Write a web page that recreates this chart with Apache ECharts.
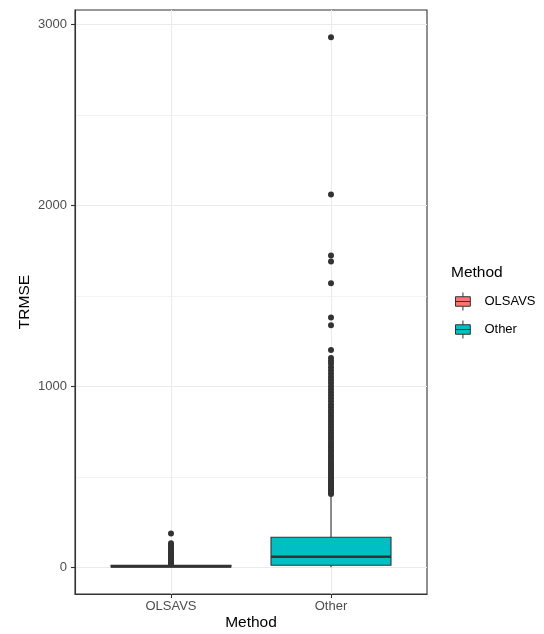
<!DOCTYPE html>
<html>
<head>
<meta charset="utf-8">
<script src="https://cdn.jsdelivr.net/npm/echarts@6/dist/echarts.min.js"></script>
<style>
html,body{margin:0;padding:0;background:#fff;}
#chart{width:544px;height:634px;}
</style>
</head>
<body>
<div id="chart"></div>
<script>
// ---- data ----
const categories = ['OLSAVS', 'Other'];
const yTickValues = [0, 1000, 2000, 3000];
const yMinorValues = [500, 1500, 2500];
// box stats: [min, Q1, median, Q3, max]
const olsavsBox = [0, 1, 4, 10, 18];
const otherBox = [0, 11, 58, 166, 395];
const olsavsOutliers = [20, 24, 28, 33, 38, 44, 50, 57, 64, 72, 80, 88, 96, 105, 114, 123, 132, 186];
const otherOutliers = [405, 410, 418, 425, 433, 440, 448, 456, 465, 473, 482, 490, 500, 510, 520, 530,
  541, 552, 563, 575, 587, 600, 612, 625, 638, 650, 663, 676, 690, 704, 718, 732, 746, 760, 775, 790,
  805, 820, 836, 852, 868, 884, 900, 917, 934, 950, 967, 984, 1001, 1018, 1035, 1052, 1070, 1088,
  1106, 1124, 1140, 1157, 1201, 1337, 1380, 1570, 1690, 1723, 2060, 2930];
const colors = ['#F8766D', '#00BFC4'];

const chart = echarts.init(document.getElementById('chart'), null, {renderer: 'canvas'});
const INK = '#333333';
const HALF = 0.375;
const FONT = 'Liberation Sans, Arial, sans-serif';

function renderBox(params, api) {
  const x = api.value(0);
  const mn = api.value(1), q1 = api.value(2), md = api.value(3), q3 = api.value(4), mx = api.value(5);
  const cTop = api.coord([x, mx]);
  const cQ3 = api.coord([x, q3]);
  const cQ1 = api.coord([x, q1]);
  const cMin = api.coord([x, mn]);
  const tl = api.coord([x - HALF, q3]);
  const br = api.coord([x + HALF, q1]);
  const mL = api.coord([x - HALF, md]);
  const mR = api.coord([x + HALF, md]);
  return {
    type: 'group',
    children: [
      {type: 'line', shape: {x1: cTop[0], y1: cTop[1], x2: cQ3[0], y2: cQ3[1]}, style: {stroke: INK, lineWidth: 1.1}},
      {type: 'line', shape: {x1: cQ1[0], y1: cQ1[1], x2: cMin[0], y2: cMin[1]}, style: {stroke: INK, lineWidth: 1.1}},
      {type: 'rect', shape: {x: tl[0], y: tl[1], width: br[0] - tl[0], height: br[1] - tl[1]},
        style: {fill: api.visual('color'), stroke: INK, lineWidth: 1.1}},
      {type: 'line', shape: {x1: mL[0], y1: mL[1], x2: mR[0], y2: mR[1]}, style: {stroke: INK, lineWidth: 2.6}}
    ]
  };
}

const gridMarks = [];
yTickValues.forEach(v => gridMarks.push({yAxis: v, lineStyle: {color: '#EBEBEB', width: 1.1, type: 'solid'}}));
yMinorValues.forEach(v => gridMarks.push({yAxis: v, lineStyle: {color: '#EBEBEB', width: 0.6, type: 'solid'}}));
[1, 2].forEach(v => gridMarks.push({xAxis: v, lineStyle: {color: '#EBEBEB', width: 1.1, type: 'solid'}}));

const iconPath = 'path://M2,4 L16,4 L16,13 L2,13 Z M2,8.5 L16,8.5 M9,0 L9,4 M9,13 L9,17';

const option = {
  backgroundColor: '#ffffff',
  animation: false,
  textStyle: {fontFamily: FONT},
  title: {
    text: 'Method', left: 451, top: 265, padding: 0,
    textStyle: {fontSize: 15.5, fontWeight: 'normal', color: '#000', fontFamily: FONT}
  },
  legend: {
    orient: 'vertical', left: 455, top: 292, padding: 0,
    itemWidth: 17, itemHeight: 18, itemGap: 9,
    data: [{name: 'OLSAVS', icon: iconPath}, {name: 'Other', icon: iconPath}],
    itemStyle: {borderColor: INK, borderWidth: 1},
    textStyle: {fontSize: 13, color: '#000', padding: [0, 0, 0, 8], fontFamily: FONT}
  },
  grid: {left: 75, top: 10, width: 352, height: 584, show: true, borderColor: INK, borderWidth: 1.1,
    backgroundColor: 'transparent', outerBoundsMode: 'none', containLabel: false},
  xAxis: [{
    type: 'value', min: 0.4, max: 2.6,
    name: 'Method', nameLocation: 'middle', nameGap: 21, nameMoveOverlap: false,
    nameTextStyle: {fontSize: 15.5, color: '#000', fontFamily: FONT},
    axisLine: {show: true, onZero: false, lineStyle: {color: INK, width: 1.1}},
    axisTick: {show: true, customValues: [1, 2], length: 4, lineStyle: {color: INK, width: 1.1}},
    axisLabel: {show: true, customValues: [1, 2], formatter: v => categories[Math.round(v) - 1] || '', color: '#4D4D4D', fontSize: 13, margin: 6},
    splitLine: {show: false}
  }],
  yAxis: [{
    type: 'value', min: -148, max: 3080,
    name: 'TRMSE', nameLocation: 'middle', nameGap: 42, nameMoveOverlap: false,
    nameTextStyle: {fontSize: 15.5, color: '#000', fontFamily: FONT},
    axisLine: {show: true, onZero: false, lineStyle: {color: INK, width: 1.1}},
    axisTick: {show: true, customValues: yTickValues, length: 4, lineStyle: {color: INK, width: 1.1}},
    axisLabel: {show: true, customValues: yTickValues, formatter: v => String(v), color: '#4D4D4D', fontSize: 13, margin: 8},
    splitLine: {show: false}
  }],
  series: [
    {
      type: 'scatter', name: 'gridlines', data: [], z: 0, silent: true,
      markLine: {silent: true, symbol: ['none', 'none'], label: {show: false}, z: 0, animation: false, data: gridMarks}
    },
    {
      type: 'custom', name: 'OLSAVS', renderItem: renderBox, itemStyle: {color: colors[0]},
      encode: {x: 0, y: [1, 2, 3, 4, 5]}, data: [[1].concat(olsavsBox)], z: 2
    },
    {
      type: 'custom', name: 'Other', renderItem: renderBox, itemStyle: {color: colors[1]},
      encode: {x: 0, y: [1, 2, 3, 4, 5]}, data: [[2].concat(otherBox)], z: 2
    },
    {
      type: 'scatter', name: 'OLSAVS outliers', symbolSize: 6, itemStyle: {color: INK, opacity: 1},
      data: olsavsOutliers.map(v => [1, v]), z: 3
    },
    {
      type: 'scatter', name: 'Other outliers', symbolSize: 6, itemStyle: {color: INK, opacity: 1},
      data: otherOutliers.map(v => [2, v]), z: 3
    }
  ]
};
chart.setOption(option);
</script>
</body>
</html>
